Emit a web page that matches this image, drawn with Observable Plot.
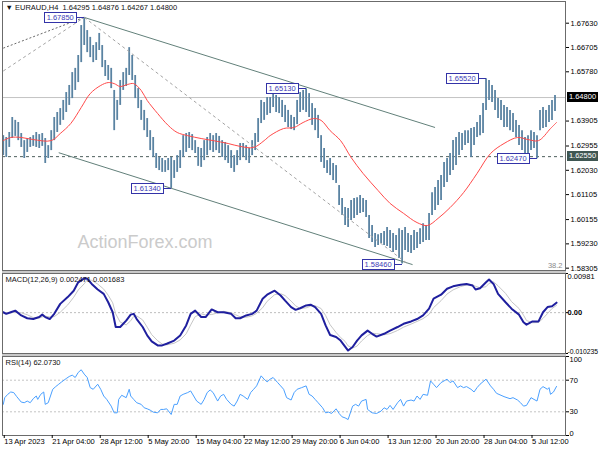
<!DOCTYPE html>
<html><head><meta charset="utf-8">
<script src="https://cdn.jsdelivr.net/npm/d3@7"></script>
<script src="https://cdn.jsdelivr.net/npm/@observablehq/plot@0.6"></script>
<style>
html,body{margin:0;padding:0;background:#fff;}
#wrap{position:relative;width:600px;height:450px;overflow:hidden;font-family:"Liberation Sans",Arial,sans-serif;}
#wrap svg{position:absolute;left:0;}
.sep{position:absolute;left:2px;width:564px;height:2px;background:#c9c9c9;}
.pivot{position:absolute;width:31px;height:9px;border:1px solid #3333a8;background:#fff;color:#3b3bb6;font:7.5px "Liberation Sans",Arial,sans-serif;line-height:9px;text-align:center;white-space:nowrap;}
.conn{position:absolute;height:1px;background:#3333a8;}
.tag{position:absolute;left:567px;width:31px;height:10px;color:#fff;font:7.5px "Liberation Sans",Arial,sans-serif;line-height:10px;text-align:center;}
</style></head><body><div id="wrap"></div>
<script>
// ---------- data ----------
const symbol = "EURAUD,H4";
const lastOHLC = [1.64295, 1.64876, 1.64267, 1.64800];
const barStep = 2; // every other H4 bar sampled: [high, low]
const priceRanges = [
[1.6335,1.6259],[1.6328,1.6252],[1.6347,1.6290],[1.6404,1.6324],[1.6393,1.6332],[1.6385,1.6316],[1.6343,1.6290],[1.6316,1.6248],[1.6324,1.6271],[1.6328,1.6290],
[1.6335,1.6294],[1.6347,1.6290],[1.6339,1.6286],[1.6343,1.6294],[1.6324,1.6229],[1.6297,1.6248],[1.6354,1.6278],[1.6404,1.6316],[1.6423,1.6347],[1.6438,1.6374],
[1.6469,1.6393],[1.6499,1.6423],[1.6526,1.6450],[1.6575,1.6476],[1.6591,1.6507],[1.6640,1.6537],[1.6754,1.6613],[1.6785,1.6678],[1.6735,1.6651],[1.6709,1.6632],
[1.6678,1.6613],[1.6689,1.6621],[1.6724,1.6659],[1.6678,1.6594],[1.6621,1.6560],[1.6602,1.6545],[1.6591,1.6514],[1.6507,1.6354],[1.6469,1.6393],[1.6545,1.6450],
[1.6575,1.6507],[1.6591,1.6522],[1.6670,1.6564],[1.6640,1.6545],[1.6564,1.6476],[1.6514,1.6438],[1.6469,1.6393],[1.6431,1.6354],[1.6400,1.6328],[1.6354,1.6278],
[1.6328,1.6252],[1.6267,1.6210],[1.6252,1.6202],[1.6248,1.6195],[1.6240,1.6195],[1.6248,1.6202],[1.6252,1.6134],[1.6240,1.6172],[1.6259,1.6195],[1.6278,1.6210],
[1.6335,1.6252],[1.6343,1.6271],[1.6347,1.6286],[1.6339,1.6278],[1.6316,1.6267],[1.6290,1.6218],[1.6286,1.6214],[1.6316,1.6240],[1.6328,1.6259],[1.6343,1.6278],
[1.6335,1.6271],[1.6343,1.6278],[1.6332,1.6267],[1.6316,1.6252],[1.6309,1.6240],[1.6297,1.6229],[1.6278,1.6210],[1.6259,1.6195],[1.6278,1.6221],[1.6305,1.6240],
[1.6305,1.6252],[1.6297,1.6240],[1.6286,1.6229],[1.6316,1.6259],[1.6343,1.6278],[1.6400,1.6309],[1.6469,1.6381],[1.6461,1.6393],[1.6480,1.6412],[1.6480,1.6419],
[1.6511,1.6442],[1.6488,1.6423],[1.6480,1.6419],[1.6469,1.6404],[1.6450,1.6385],[1.6431,1.6366],[1.6412,1.6358],[1.6404,1.6354],[1.6469,1.6377],[1.6499,1.6423],
[1.6507,1.6431],[1.6513,1.6423],[1.6495,1.6404],[1.6457,1.6374],[1.6438,1.6354],[1.6412,1.6324],[1.6335,1.6233],[1.6286,1.6210],[1.6240,1.6191],[1.6248,1.6183],
[1.6229,1.6164],[1.6221,1.6153],[1.6145,1.6069],[1.6096,1.6031],[1.6061,1.5993],[1.6058,1.5985],[1.6088,1.6012],[1.6096,1.6020],[1.6099,1.6031],[1.6107,1.6039],
[1.6096,1.6042],[1.6088,1.6023],[1.6031,1.5943],[1.5993,1.5928],[1.5962,1.5909],[1.5958,1.5917],[1.5962,1.5924],[1.5970,1.5917],[1.5985,1.5913],[1.5974,1.5905],
[1.5962,1.5890],[1.5955,1.5898],[1.5981,1.5867],[1.5974,1.5846],[1.5985,1.5898],[1.5962,1.5890],[1.5955,1.5886],[1.5974,1.5898],[1.5966,1.5905],[1.5981,1.5921],
[1.6000,1.5928],[1.5993,1.5936],[1.6039,1.5936],[1.6118,1.6031],[1.6138,1.6050],[1.6164,1.6069],[1.6183,1.6088],[1.6233,1.6138],[1.6248,1.6157],[1.6267,1.6183],
[1.6316,1.6202],[1.6328,1.6221],[1.6347,1.6259],[1.6343,1.6278],[1.6354,1.6297],[1.6354,1.6305],[1.6362,1.6252],[1.6366,1.6297],[1.6385,1.6328],[1.6412,1.6335],
[1.6457,1.6343],[1.6552,1.6431],[1.6545,1.6469],[1.6526,1.6461],[1.6507,1.6431],[1.6476,1.6400],[1.6469,1.6393],[1.6450,1.6366],[1.6442,1.6366],[1.6431,1.6354],
[1.6419,1.6347],[1.6393,1.6328],[1.6374,1.6297],[1.6354,1.6278],[1.6328,1.6252],[1.6335,1.6259],[1.6354,1.6278],[1.6347,1.6286],[1.6335,1.6247],[1.6431,1.6354],
[1.6442,1.6362],[1.6431,1.6366],[1.6450,1.6385],[1.6469,1.6393],[1.6488,1.6427]
];
// red moving average: [bar, price]
const maPoints = [
[0,1.6316],[5,1.6328],[12,1.6328],[20,1.6320],[32,1.6316],[38,1.6343],[45,1.6381],[52,1.6442],[58,1.6495],[65,1.6526],
[70,1.6537],[74,1.6533],[78,1.6522],[83,1.6530],[87,1.6533],[92,1.6507],[96,1.6469],[103,1.6419],[110,1.6374],[116,1.6347],
[123,1.6335],[132,1.6324],[140,1.6316],[150,1.6305],[158,1.6294],[167,1.6290],[174,1.6316],[178,1.6335],[187,1.6362],[194,1.6366],
[200,1.6385],[207,1.6400],[212,1.6393],[218,1.6354],[225,1.6316],[232,1.6252],[240,1.6191],[250,1.6126],[258,1.6077],[267,1.6039],
[276,1.6004],[283,1.5993],[290,1.6020],[298,1.6061],[307,1.6118],[316,1.6191],[325,1.6267],[334,1.6305],[343,1.6328],[350,1.6320],
[357,1.6316],[365,1.6362],[369,1.6385]
];
// MACD main line: [bar, value]
const macdPoints = [
[0,0.0001],[2,-0.0003],[5,0.0001],[8,0.0005],[12,-0.0007],[16,-0.0014],[20,-0.0016],[24,-0.0011],[26,-0.0005],[28,-0.0011],
[31,-0.0016],[34,-0.0003],[38,0.0022],[43,0.0039],[47,0.0055],[50,0.0076],[54,0.0086],[56,0.0085],[59,0.0072],[63,0.0058],
[67,0.0047],[70,0.0026],[73,0.0001],[75,-0.0036],[78,-0.0036],[82,-0.0020],[85,-0.0005],[87,-0.0003],[89,-0.0016],[93,-0.0036],
[96,-0.0057],[99,-0.0072],[103,-0.0082],[106,-0.0082],[109,-0.0078],[114,-0.0070],[118,-0.0057],[122,-0.0032],[125,-0.0003],[128,0.0005],
[132,-0.0011],[135,-0.0011],[139,0.0008],[143,0.0001],[147,0.0001],[152,-0.0003],[155,-0.0014],[158,-0.0014],[162,-0.0007],[166,-0.0003],
[169,0.0005],[173,0.0035],[176,0.0045],[181,0.0055],[185,0.0043],[188,0.0030],[192,0.0014],[195,0.0007],[198,0.0011],[202,0.0018],
[205,0.0020],[208,0.0014],[212,-0.0003],[215,-0.0032],[218,-0.0056],[222,-0.0061],[225,-0.0070],[228,-0.0085],[230,-0.0095],[233,-0.0086],
[236,-0.0070],[239,-0.0057],[243,-0.0045],[246,-0.0053],[249,-0.0060],[254,-0.0053],[258,-0.0045],[263,-0.0036],[267,-0.0028],[272,-0.0022],
[276,-0.0016],[280,-0.0007],[284,0.0010],[287,0.0035],[292,0.0045],[296,0.0060],[300,0.0066],[305,0.0070],[309,0.0072],[313,0.0068],
[315,0.0058],[318,0.0061],[322,0.0076],[324,0.0083],[327,0.0072],[330,0.0047],[335,0.0026],[339,0.0010],[344,-0.0005],[347,-0.0024],
[349,-0.0030],[353,-0.0022],[357,-0.0022],[360,0.0001],[363,0.0014],[366,0.0016],[369,0.0025]
];
const macdNow = [0.002471, 0.001683];
// RSI(14): [bar, value]
const rsiPoints = [
[0,39.4],[1,47.9],[3,52.1],[5,55.1],[7,54.3],[9,49.2],[12,42.3],[14,41.5],[16,43.6],[18,41.5],
[20,46.6],[22,50.0],[23,45.7],[25,52.1],[27,55.1],[28,39.4],[30,41.5],[33,58.5],[35,61.9],[37,64.9],
[39,67.9],[42,72.1],[44,74.7],[46,76.4],[48,73.4],[50,79.8],[52,83.2],[54,77.7],[56,73.4],[58,60.6],
[60,58.5],[63,64.9],[65,58.5],[67,50.0],[69,45.7],[72,37.2],[74,28.7],[76,28.7],[77,45.7],[79,50.9],
[82,47.9],[84,58.5],[85,50.0],[87,45.7],[89,41.5],[92,39.4],[94,35.1],[96,33.8],[98,32.1],[100,29.6],
[103,28.7],[105,33.0],[107,33.0],[109,33.8],[112,26.6],[114,39.4],[116,39.4],[118,50.0],[120,52.1],[123,54.3],
[125,56.4],[127,50.0],[129,43.6],[132,39.4],[134,45.7],[136,54.3],[138,57.7],[140,54.3],[143,43.6],[145,50.0],
[147,52.1],[149,45.7],[152,39.4],[154,37.2],[156,43.6],[158,52.1],[160,50.0],[163,45.7],[165,54.3],[167,58.5],
[169,62.8],[172,75.5],[174,71.3],[176,67.9],[178,71.3],[180,73.4],[183,67.0],[185,62.8],[187,58.5],[189,47.9],
[192,44.9],[194,54.3],[196,58.5],[199,60.6],[202,62.8],[204,52.1],[206,50.0],[208,45.7],[210,41.5],[213,35.1],
[215,28.7],[217,29.6],[219,27.9],[222,33.8],[224,27.9],[226,23.6],[228,22.3],[230,20.2],[233,37.2],[235,39.4],
[237,37.2],[239,43.6],[242,45.7],[243,33.0],[246,28.7],[249,27.9],[252,30.9],[254,35.1],[256,33.0],[258,38.1],
[260,33.0],[263,41.5],[265,45.7],[267,37.2],[269,43.6],[272,44.9],[274,43.6],[276,50.0],[278,45.7],[280,52.1],
[283,50.9],[285,69.1],[287,64.9],[289,60.6],[292,67.0],[294,69.1],[296,71.3],[298,67.0],[300,69.1],[303,60.6],
[305,62.8],[307,60.6],[309,61.9],[312,58.5],[314,55.1],[316,60.6],[318,64.9],[322,71.3],[325,62.8],[327,58.5],
[329,53.4],[332,50.9],[334,49.2],[336,47.9],[338,46.6],[340,47.9],[343,44.9],[345,41.5],[347,37.2],[349,38.1],
[352,47.9],[354,45.7],[356,43.6],[358,58.5],[360,61.9],[363,58.5],[364,60.6],[365,52.1],[367,55.1],[369,62.1]
];
const rsiNow = 62.0730;
const rsiLevels = [70, 30];
const rsiTicks = [100, 70, 30, 0];
const tickBars = [0, 32, 64, 96, 128, 160, 192, 224, 256, 288, 320, 352];
const tickLabels = ["13 Apr 2023","21 Apr 04:00","28 Apr 12:00","5 May 20:00","15 May 04:00","22 May 12:00","29 May 20:00","6 Jun 04:00","13 Jun 12:00","20 Jun 20:00","28 Jun 04:00","5 Jul 12:00"];
const priceTicks = [1.67630, 1.66705, 1.65780, 1.63905, 1.62955, 1.62030, 1.61105, 1.60155, 1.59230, 1.58305];
const macdTicks = [0.00981, 0, -0.010235];
const macdTickLabels = ["0.00981", "0.00", "-0.010235"];
const currentPrice = 1.64800;
const supportLevel = 1.62550;
const pivots = [[54,1.6785],[112,1.6134],[202,1.6513],[266,1.5846],[322,1.6552],[356,1.6247]];
const trendFrom = [[54,1.6785],[37,1.6270],[54,1.6785],[0,1.6668],[0,1.6581]];
const trendTo   = [[288,1.6366],[273,1.5844],[270,1.5846],[54,1.6785],[54,1.6785]];
const trendKind = ["channel","channel","fan","fanDark","fan"];
const fibLabel = "38.2";
const watermark = "ActionForex.com";

// ---------- build ----------
const wrap = document.getElementById("wrap");
const xDomain = [-0.5, 375];
const font = {fontFamily: "'Liberation Sans', Arial, sans-serif", fontSize: "7.5px", color: "#000", background: "transparent", overflow: "visible"};
const bars = priceRanges.map(([h, l], k) => ({bar: k * barStep, hi: h, lo: l}));
const trends = trendFrom.map((f, j) => ({x1: f[0], y1: f[1], x2: trendTo[j][0], y2: trendTo[j][1], kind: trendKind[j]}));
const headerText = "\u25BC " + symbol + "  " + lastOHLC.map(v => v.toFixed(5)).join(" ");
const lk = (kind, opts) => Plot.link(trends.filter(d => d.kind === kind), {x1: "x1", y1: "y1", x2: "x2", y2: "y2", ...opts});

const main = Plot.plot({
  width: 600, height: 271, marginTop: 1, marginBottom: 1, marginLeft: 2, marginRight: 35,
  x: {domain: xDomain, axis: null},
  y: {domain: [1.58216, 1.68456], axis: null},
  style: font,
  marks: [
    Plot.text([watermark], {text: d => d, frameAnchor: "bottom-left", dx: 75, dy: -28, textAnchor: "start", lineAnchor: "middle", fontSize: 18, fill: "#cbcbcb"}),
    Plot.ruleY([currentPrice], {stroke: "#c4c4c4"}),
    Plot.ruleY([supportLevel], {stroke: "#4d5f5c", strokeDasharray: "3,3"}),
    Plot.ruleX(bars, {x: "bar", y1: "lo", y2: "hi", stroke: "#5a83a2", strokeWidth: 1.8}),
    Plot.line(maPoints, {x: d => d[0], y: d => d[1], stroke: "#ff4a4a", strokeWidth: 1, curve: "catmull-rom"}),
    lk("channel", {stroke: "#62807a", strokeWidth: 1}),
    lk("fan", {stroke: "#a3a3a3", strokeDasharray: "3,3"}),
    lk("fanDark", {stroke: "#6a6a6a", strokeDasharray: "2,2"}),
    Plot.frame({stroke: "#6b6b6b"}),
    Plot.axisY({anchor: "right", ticks: priceTicks, tickFormat: d => d.toFixed(5), tickSize: 3, tickPadding: 2, label: null}),
    Plot.text([headerText], {text: d => d, frameAnchor: "top-left", dx: 3, dy: 3, textAnchor: "start", lineAnchor: "top", fill: "#111"}),
    Plot.text([fibLabel], {text: d => d, frameAnchor: "bottom-right", dx: -3, dy: -3, textAnchor: "end", lineAnchor: "bottom", fill: "#8a8a8a"})
  ]
});
main.style.top = "0px";
wrap.appendChild(main);

const macdLabelMarks = macdTicks.map((v, j) => Plot.text([v], {
  y: d => d, text: () => macdTickLabels[j], frameAnchor: "right", dx: 2, textAnchor: "start",
  lineAnchor: j === 0 ? "top" : (j === macdTicks.length - 1 ? "bottom" : "middle"),
  fontWeight: v === 0 ? "bold" : "normal",
  fontSize: macdTickLabels[j].length > 8 ? 6.8 : 7.5
}));
const macdPlot = Plot.plot({
  width: 600, height: 82, marginTop: 1, marginBottom: 1, marginLeft: 2, marginRight: 35,
  x: {domain: xDomain, axis: null},
  y: {domain: [-0.010235, 0.00981], axis: null},
  style: font,
  marks: [
    Plot.ruleY([0], {stroke: "#bdbdbd", strokeDasharray: "2,2"}),
    Plot.line(macdPoints, Plot.windowY({k: 3, anchor: "end"}, {x: d => d[0], y: d => d[1], stroke: "#c6c6c6", strokeWidth: 1})),
    Plot.line(macdPoints, {x: d => d[0], y: d => d[1], stroke: "#1f1f9e", strokeWidth: 2}),
    Plot.frame({stroke: "#6b6b6b"}),
    Plot.axisY({anchor: "right", ticks: macdTicks, tickFormat: () => "", tickSize: 2, label: null}),
    ...macdLabelMarks,
    Plot.text(["MACD(12,26,9) " + macdNow.map(v => v.toFixed(6)).join(" ")], {text: d => d, frameAnchor: "top-left", dx: 3, dy: 3, textAnchor: "start", lineAnchor: "top", fill: "#111"})
  ]
});
macdPlot.style.top = "272px";
wrap.appendChild(macdPlot);

const rsiLabelMarks = rsiTicks.map((v, j) => Plot.text([v], {
  y: d => d, text: d => String(d), frameAnchor: "right", dx: 4, textAnchor: "start",
  lineAnchor: j === 0 ? "top" : (j === rsiTicks.length - 1 ? "bottom" : "middle")
}));
const rsiPlot = Plot.plot({
  width: 600, height: 95, marginTop: 1, marginBottom: 15, marginLeft: 2, marginRight: 35,
  x: {domain: xDomain, axis: null},
  y: {domain: [0, 100], axis: null},
  style: font,
  marks: [
    Plot.ruleY(rsiLevels, {stroke: "#c4c4c4", strokeDasharray: "2,2"}),
    Plot.line(rsiPoints, {x: d => d[0], y: d => d[1], stroke: "#4aa0ff", strokeWidth: 1}),
    Plot.frame({stroke: "#6b6b6b"}),
    Plot.axisY({anchor: "right", ticks: rsiTicks, tickFormat: () => "", tickSize: 3, label: null}),
    ...rsiLabelMarks,
    Plot.axisX({anchor: "bottom", ticks: tickBars, tickFormat: d => tickLabels[tickBars.indexOf(d)], tickSize: 3, tickPadding: 0, textAnchor: "start", dx: 1, label: null}),
    Plot.text(["RSI(14) " + rsiNow.toFixed(4)], {text: d => d, frameAnchor: "top-left", dx: 3, dy: 3, textAnchor: "start", lineAnchor: "top", fill: "#111"})
  ]
});
rsiPlot.style.top = "355px";
wrap.appendChild(rsiPlot);

// panel separators
[271, 354].forEach(t => { const s = document.createElement("div"); s.className = "sep"; s.style.top = t + "px"; wrap.appendChild(s); });

// pivot labels and price tags placed through the main plot's scales
const xs = main.scale("x"), ys = main.scale("y");
pivots.forEach(([bar, price]) => {
  const px = xs.apply(bar), py = ys.apply(price);
  const c = document.createElement("div"); c.className = "conn";
  c.style.left = (px - 7) + "px"; c.style.top = Math.round(py) + "px"; c.style.width = "7px";
  wrap.appendChild(c);
  const b = document.createElement("div"); b.className = "pivot";
  b.textContent = price.toFixed(5);
  b.style.left = (px - 7 - 33) + "px"; b.style.top = (Math.round(py) - 5) + "px";
  wrap.appendChild(b);
});
[[currentPrice, "#000"], [supportLevel, "#3f5652"]].forEach(([v, bg]) => {
  const t = document.createElement("div"); t.className = "tag";
  t.textContent = v.toFixed(5); t.style.background = bg;
  t.style.top = (Math.round(ys.apply(v)) - 5) + "px";
  wrap.appendChild(t);
});
</script></body></html>
